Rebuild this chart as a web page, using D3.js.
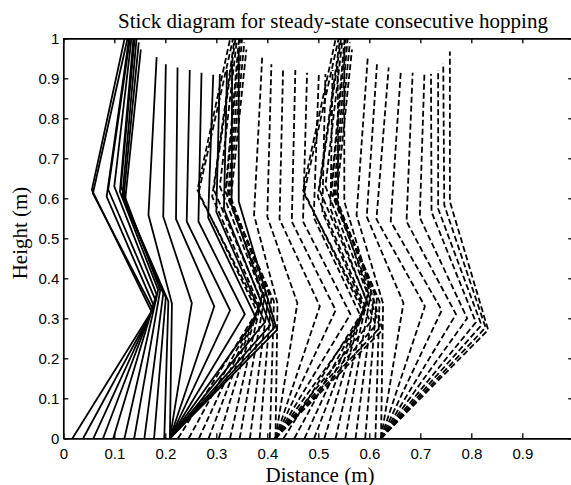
<!DOCTYPE html>
<html>
<head>
<meta charset="utf-8">
<script src="https://cdn.jsdelivr.net/npm/d3@7"></script>
<style>
  html, body { margin: 0; padding: 0; background: #fff; }
  svg { display: block; }
</style>
</head>
<body>
<div id="chart"></div>
<script>
// ---------- data (metres) ----------
const titleText = "Stick diagram for steady-state consecutive hopping";
const xLabelText = "Distance (m)";
const yLabelText = "Height (m)";

const xTickValues = [0, 0.1, 0.2, 0.3, 0.4, 0.5, 0.6, 0.7, 0.8, 0.9];
const xTickLabels = ["0", "0.1", "0.2", "0.3", "0.4", "0.5", "0.6", "0.7", "0.8", "0.9"];
const yTickValues = [0, 0.1, 0.2, 0.3, 0.4, 0.5, 0.6, 0.7, 0.8, 0.9, 1];
const yTickLabels = ["0", "0.1", "0.2", "0.3", "0.4", "0.5", "0.6", "0.7", "0.8", "0.9", "1"];

// joint heights, shared by each hop (steady state): 10 flight frames then 10 stance frames
const kneeY = [0.317, 0.322, 0.330, 0.345, 0.360, 0.371, 0.370, 0.362, 0.352, 0.342,
               0.337, 0.338, 0.330, 0.320, 0.310, 0.300, 0.290, 0.283, 0.277, 0.271];
const hipY  = [0.621, 0.612, 0.604, 0.622, 0.630, 0.617, 0.630, 0.608, 0.600, 0.592,
               0.558, 0.554, 0.548, 0.542, 0.542, 0.552, 0.566, 0.574, 0.583, 0.592];
const headY = [1.004, 1.000, 1.010, 1.020, 1.025, 1.020, 1.015, 1.005, 0.990, 0.972,
               0.953, 0.935, 0.927, 0.921, 0.914, 0.909, 0.911, 0.921, 0.937, 0.967];

// hop 1 (solid)
const hop1FootX = [0.018, 0.039, 0.059, 0.078, 0.098, 0.120, 0.139, 0.159, 0.178, 0.198,
                   0.209, 0.209, 0.209, 0.209, 0.209, 0.209, 0.209, 0.209, 0.209, 0.209];
const hop1KneeX = [0.173, 0.176, 0.178, 0.181, 0.183, 0.186, 0.190, 0.196, 0.201, 0.206,
                   0.213, 0.252, 0.296, 0.327, 0.356, 0.378, 0.395, 0.406, 0.414, 0.419];
const hop1HipX  = [0.056, 0.058, 0.085, 0.088, 0.100, 0.111, 0.113, 0.116, 0.118, 0.121,
                   0.167, 0.196, 0.221, 0.242, 0.265, 0.284, 0.300, 0.315, 0.330, 0.344];
const hop1HeadX = [0.121, 0.126, 0.130, 0.133, 0.136, 0.139, 0.141, 0.144, 0.148, 0.152,
                   0.183, 0.201, 0.224, 0.248, 0.271, 0.294, 0.307, 0.321, 0.331, 0.344];

// hop 2 (dashed)
const hop2FootX = [0.225, 0.246, 0.266, 0.285, 0.305, 0.327, 0.346, 0.366, 0.385, 0.405,
                   0.416, 0.416, 0.416, 0.416, 0.416, 0.416, 0.416, 0.416, 0.416, 0.416];
const hop2KneeX = [0.380, 0.383, 0.385, 0.388, 0.390, 0.393, 0.397, 0.403, 0.408, 0.413,
                   0.420, 0.459, 0.503, 0.534, 0.563, 0.585, 0.602, 0.613, 0.621, 0.626];
const hop2HipX  = [0.263, 0.265, 0.292, 0.295, 0.307, 0.318, 0.320, 0.323, 0.325, 0.328,
                   0.374, 0.400, 0.424, 0.448, 0.470, 0.491, 0.508, 0.524, 0.539, 0.551];
const hop2HeadX = [0.328, 0.333, 0.337, 0.340, 0.343, 0.346, 0.348, 0.351, 0.355, 0.359,
                   0.390, 0.408, 0.431, 0.455, 0.478, 0.501, 0.514, 0.528, 0.538, 0.551];

// hop 3 (dashed)
const hop3FootX = [0.432, 0.453, 0.473, 0.492, 0.512, 0.534, 0.553, 0.573, 0.592, 0.612,
                   0.623, 0.623, 0.623, 0.623, 0.623, 0.623, 0.623, 0.623, 0.623, 0.623];
const hop3KneeX = [0.587, 0.590, 0.592, 0.595, 0.597, 0.600, 0.604, 0.610, 0.615, 0.620,
                   0.627, 0.667, 0.709, 0.742, 0.770, 0.792, 0.809, 0.820, 0.828, 0.833];
const hop3HipX  = [0.470, 0.472, 0.499, 0.502, 0.514, 0.525, 0.527, 0.530, 0.532, 0.535,
                   0.575, 0.595, 0.614, 0.642, 0.673, 0.699, 0.722, 0.735, 0.747, 0.758];
const hop3HeadX = [0.535, 0.540, 0.544, 0.547, 0.550, 0.553, 0.555, 0.558, 0.562, 0.566,
                   0.597, 0.615, 0.638, 0.662, 0.685, 0.708, 0.721, 0.735, 0.745, 0.758];

const hops = [
  { footX: hop1FootX, kneeX: hop1KneeX, hipX: hop1HipX, headX: hop1HeadX, dashed: false },
  { footX: hop2FootX, kneeX: hop2KneeX, hipX: hop2HipX, headX: hop2HeadX, dashed: true },
  { footX: hop3FootX, kneeX: hop3KneeX, hipX: hop3HipX, headX: hop3HeadX, dashed: true }
];

// ---------- layout ----------
const W = 571, H = 485;
const plotL = 63.3, plotR = 573.3, plotT = 38.3, plotB = 438.3;

const x = d3.scaleLinear().domain([0, 1]).range([plotL, plotR]);
const y = d3.scaleLinear().domain([0, 1]).range([plotB, plotT]);

const svg = d3.select("#chart").append("svg")
  .attr("width", W).attr("height", H)
  .attr("viewBox", `0 0 ${W} ${H}`);

svg.append("defs").append("clipPath").attr("id", "plotclip")
  .append("rect")
  .attr("x", plotL).attr("y", plotT)
  .attr("width", plotR - plotL).attr("height", plotB - plotT);

// sticks
const line = d3.line().x(d => x(d[0])).y(d => y(d[1]));
const sticks = svg.append("g").attr("clip-path", "url(#plotclip)");
hops.forEach(hop => {
  const frames = hop.footX.map((fx, i) => [
    [fx, 0],
    [hop.kneeX[i], kneeY[i]],
    [hop.hipX[i], hipY[i]],
    [hop.headX[i], headY[i]]
  ]);
  sticks.selectAll(null).data(frames).enter().append("path")
    .attr("d", line)
    .attr("fill", "none")
    .attr("stroke", "#000")
    .attr("stroke-width", 1.8)
    .attr("stroke-linejoin", "miter")
    .attr("stroke-dasharray", hop.dashed ? "6,3" : null);
});

// axes
const tickFont = "'Liberation Sans', Arial, Helvetica, sans-serif";
function styleAxis(g) {
  g.select(".domain").attr("stroke", "#000").attr("stroke-width", 1.7);
  g.selectAll(".tick line").attr("stroke", "#000").attr("stroke-width", 1.3);
  g.selectAll(".tick text").attr("fill", "#000")
    .style("font-family", tickFont).style("font-size", "15px");
}

svg.append("g")
  .attr("transform", `translate(0,${plotB})`)
  .call(d3.axisBottom(x).tickValues(xTickValues)
    .tickFormat((d, i) => xTickLabels[i])
    .tickSizeInner(-5).tickSizeOuter(0).tickPadding(10.5))
  .call(styleAxis);

svg.append("g")
  .attr("transform", `translate(0,${plotT})`)
  .call(d3.axisTop(x).tickValues(xTickValues)
    .tickFormat("").tickSizeInner(-5).tickSizeOuter(0))
  .call(styleAxis);

svg.append("g")
  .attr("transform", `translate(${plotL},0)`)
  .call(d3.axisLeft(y).tickValues(yTickValues)
    .tickFormat((d, i) => yTickLabels[i])
    .tickSizeInner(-5).tickSizeOuter(0).tickPadding(4))
  .call(styleAxis);

svg.append("g")
  .attr("transform", `translate(${plotR},0)`)
  .call(d3.axisRight(y).tickValues(yTickValues)
    .tickFormat("").tickSizeInner(-5).tickSizeOuter(0))
  .call(styleAxis);

// titles
const serif = "'Liberation Serif', 'Times New Roman', Times, serif";
svg.append("text")
  .attr("x", 333).attr("y", 28.3)
  .attr("text-anchor", "middle")
  .style("font-family", serif).style("font-size", "21px")
  .text(titleText);

svg.append("text")
  .attr("x", 320).attr("y", 481.5)
  .attr("text-anchor", "middle")
  .style("font-family", serif).style("font-size", "21px")
  .text(xLabelText);

svg.append("text")
  .attr("transform", "translate(26.5,233) rotate(-90)")
  .attr("text-anchor", "middle")
  .style("font-family", serif).style("font-size", "21px")
  .text(yLabelText);
</script>
</body>
</html>
